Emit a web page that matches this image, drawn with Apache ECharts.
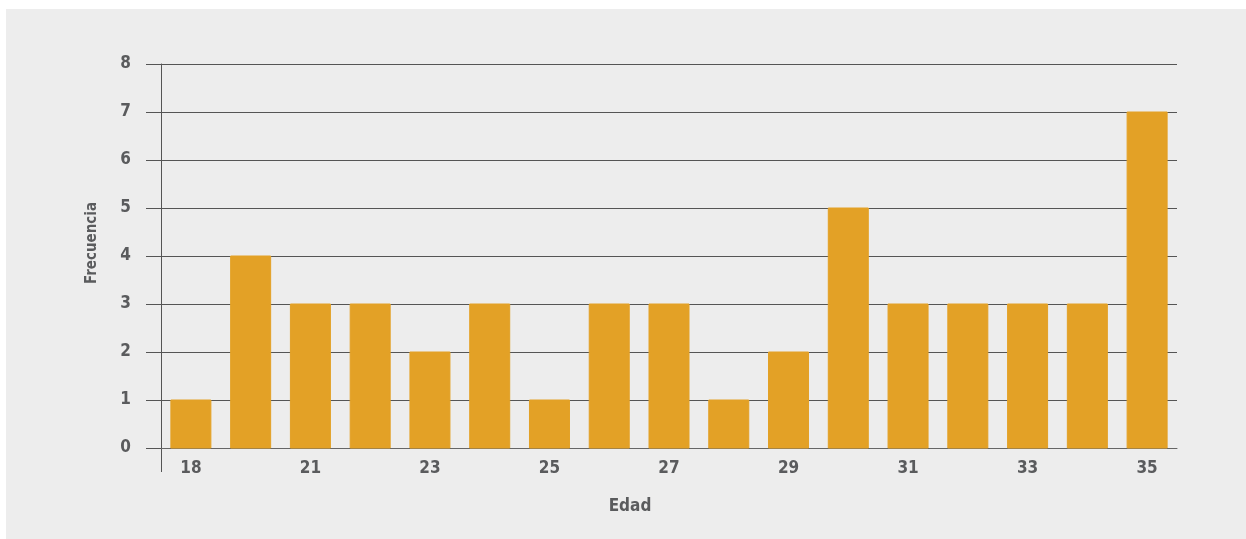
<!DOCTYPE html>
<html>
<head>
<meta charset="utf-8">
<script src="https://cdn.jsdelivr.net/npm/echarts@6/dist/echarts.min.js"></script>
<style>
html,body{margin:0;padding:0;background:#ffffff;width:1246px;height:539px;overflow:hidden;}
#bg{position:absolute;left:6px;top:9px;width:1240px;height:530px;background:#ededed;}
#chart{position:absolute;left:0;top:0;width:1246px;height:539px;}
</style>
</head>
<body>
<div id="bg"></div>
<div id="chart"></div>
<script>
const categories = ['18','20','21','22','23','24','25','26','27','28','29','30','31','32','33','34','35'];
const frequencies = [1,4,3,3,2,3,1,3,3,1,2,5,3,3,3,3,7];
const yTicks = [0,1,2,3,4,5,6,7,8];
const xTitle = 'Edad';
const yTitle = 'Frecuencia';

const FONT = '"DejaVu Sans Condensed", "Liberation Sans Narrow", "Roboto Condensed", sans-serif';
const TXT = '#5a5b5d';

const GRID_LEFT = 161, GRID_TOP = 64, GRID_BOTTOM = 91;

const chart = echarts.init(document.getElementById('chart'), null, {renderer:'canvas'});
chart.setOption({
  backgroundColor: 'transparent',
  animation: false,
  grid: {left: GRID_LEFT, right: 69, top: GRID_TOP, bottom: GRID_BOTTOM, containLabel: false},
  xAxis: {
    type: 'category',
    data: categories,
    boundaryGap: true,
    axisLine: {show: true, lineStyle: {color: '#666666', width: 1}},
    axisTick: {show: false},
    axisLabel: {interval: 1, margin: 12, color: TXT, fontFamily: FONT, fontWeight: 'bold', fontSize: 17}
  },
  yAxis: {
    type: 'value',
    min: yTicks[0],
    max: yTicks[yTicks.length-1],
    interval: 1,
    axisLine: {show: true, lineStyle: {color: '#555555', width: 1}},
    axisTick: {show: true, length: 15, inside: false, lineStyle: {color: '#555555'}},
    splitLine: {show: true, lineStyle: {color: '#555555', width: 1}},
    axisLabel: {margin: 30, padding: [5, 0, 0, 0], color: TXT, fontFamily: FONT, fontWeight: 'bold', fontSize: 17}
  },
  series: [{
    type: 'bar',
    data: frequencies,
    barWidth: 40,
    itemStyle: {color: '#e3a126', borderColor: '#e3a126'},
    z: 1
  }],
  graphic: [
    {type: 'line', shape: {x1: GRID_LEFT + 0.5, y1: 539 - GRID_BOTTOM, x2: GRID_LEFT + 0.5, y2: 539 - GRID_BOTTOM + 24}, style: {stroke: '#555555', lineWidth: 1}},
    {type: 'text', x: 630, y: 507, style: {text: xTitle, fill: TXT, font: 'bold 17px ' + FONT, textAlign: 'center', textVerticalAlign: 'middle'}},
    {type: 'text', x: 92, y: 243, rotation: Math.PI/2, style: {text: yTitle, fill: TXT, font: 'bold 15px ' + FONT, textAlign: 'center', textVerticalAlign: 'middle'}}
  ]
});
</script>
</body>
</html>
